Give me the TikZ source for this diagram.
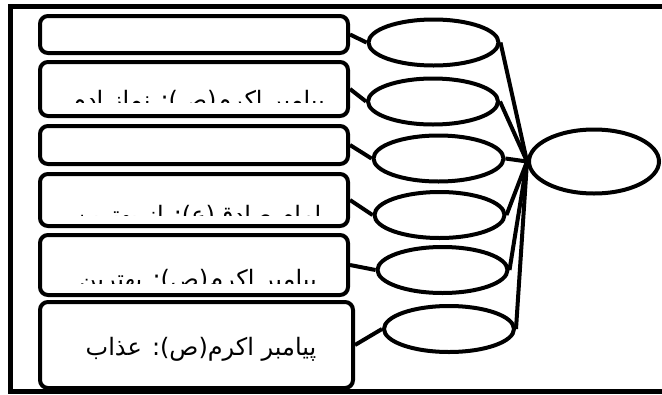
\documentclass[tikz,border=0pt]{standalone}
\usepackage{fontspec}
\newfontfamily\farsifont[Script=Arabic]{DejaVu Sans}
\TeXXeTstate=1
\usetikzlibrary{shapes.geometric}

\begin{document}
\begin{tikzpicture}[x=1pt, y=-1pt, line width=4pt,
    quote/.style={rectangle, draw, rounded corners=8pt, inner sep=0pt, minimum width=308pt},
    saying/.style={font=\farsifont\fontsize{24}{28}\selectfont, anchor=base, inner sep=0pt},
    leaf/.style={ellipse, draw, inner sep=0pt, minimum width=130pt, minimum height=46pt},
    hub/.style={ellipse, draw, inner sep=0pt, minimum width=130pt, minimum height=64pt}]
    \useasboundingbox (0,0) rectangle (662,394);

    % frame
    \draw[line width=5pt] (662,6.5) -- (10.5,6.5) -- (10.5,391.5) -- (662,391.5);

    % sayings
    \node[quote, minimum height=37pt] (q1) at (194,34.5) {};
    \node[quote, minimum height=54pt] (q2) at (194,89) {};
    \node[quote, minimum height=38pt] (q3) at (194,145) {};
    \node[quote, minimum height=52pt] (q4) at (194,200) {};
    \node[quote, minimum height=60pt] (q5) at (194,265) {};
    \node[quote, minimum width=313pt, minimum height=86pt] (q6) at (196.5,345) {};

    % texts cut off by their boxes
    \begin{scope}
        \clip (38,60) rectangle (352,102.5);
        \node[saying] (s2) at (198,108) {\beginR پیامبر اکرم(ص): نماز ادم\endR};
    \end{scope}
    \begin{scope}
        \clip (38,172) rectangle (352,215);
        \node[saying] (s4) at (198,223) {\beginR امام صادق(ع): از بهترین\endR};
    \end{scope}
    \begin{scope}
        \clip (38,233) rectangle (352,283);
        \node[saying] (s5) at (198,287) {\beginR پیامبر اکرم(ص): بهترین\endR};
    \end{scope}
    \node[saying] (s6) at (201,355) {\beginR پیامبر اکرم(ص): عذاب\endR};

    % ellipses
    \node[leaf] (e1) at (433.5,42.5) {};
    \node[leaf] (e2) at (433,101.5) {};
    \node[leaf] (e3) at (438.5,158.5) {};
    \node[leaf] (e4) at (439.5,215) {};
    \node[leaf] (e5) at (442.5,270) {};
    \node[leaf] (e6) at (449,329) {};
    \node[hub] (h) at (594,161.5) {};

    \foreach \i in {1,...,6} {
        \draw (q\i.east) -- (e\i.west);
        \draw (e\i.east) -- (h.west);
    }
\end{tikzpicture}
\end{document}
